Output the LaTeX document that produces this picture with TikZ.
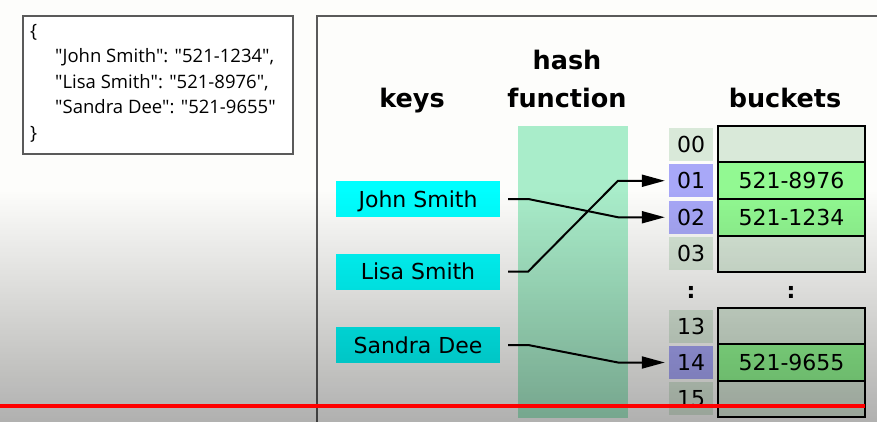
\documentclass[tikz,border=0pt]{standalone}
\usepackage{fontspec}
\setmainfont{DejaVu Sans}
\newfontfamily\jsonfont{Open Sans}
\usetikzlibrary{arrows.meta}
\definecolor{bg}{HTML}{FDFDFB}
\definecolor{keycol}{HTML}{00FFFF}
\definecolor{hashcol}{HTML}{A9EDCA}
\definecolor{emptycol}{HTML}{D9E9D9}
\definecolor{fullcol}{HTML}{92F992}
\definecolor{idxhi}{HTML}{A8A8F8}
\definecolor{framecol}{HTML}{5A5A5A}
\begin{document}
\begin{tikzpicture}[x=1pt,y=-1pt,
  cellfont/.style={font=\fontsize{22}{24}\selectfont},
  keybox/.style={cellfont, fill=keycol, minimum width=164pt, minimum height=36pt, inner sep=0pt, text height=16pt, text depth=0pt},
  idx/.style={cellfont, fill=emptycol, minimum width=44pt, minimum height=33pt, inner sep=0pt, text height=16pt, text depth=0pt},
  idxon/.style={idx, fill=idxhi},
  bucket/.style={cellfont, draw=black, line width=2pt, fill=emptycol, minimum width=147pt, minimum height=36.5pt, inner sep=0pt, text height=16pt, text depth=0pt},
  bucketon/.style={bucket, fill=fullcol},
  title/.style={font=\fontsize{25.5}{28}\selectfont\bfseries, anchor=base, inner sep=0pt},
  dots/.style={font=\fontsize{22}{24}\selectfont\bfseries, inner sep=0pt},
  json/.style={font=\jsonfont\fontsize{18.5}{22}\selectfont, anchor=base west, inner sep=0pt},
  link/.style={line width=2pt, -{Triangle[length=23pt,width=12pt]}}
]
\useasboundingbox (0,0) rectangle (877,422);
\fill[bg] (0,0) rectangle (877,422);

% left panel (JSON)
\draw[framecol, line width=1.6pt, fill=white] (23,16) rectangle (293,154);
\node[json] (jo) at (30,37.5) {\{};
\node[json] (j1) at (55,63) {"John Smith": "521-1234",};
\node[json] (j2) at (55,88.5) {"Lisa Smith": "521-8976",};
\node[json] (j3) at (55,114) {"Sandra Dee": "521-9655"};
\node[json] (jc) at (30,139.5) {\}};

% right panel frame
\draw[framecol, line width=2pt] (877,16) -- (317,16) -- (317,422);

% titles
\node[title] (tk) at (412,108) {keys};
\node[title] (th) at (567,70) {hash};
\node[title] (tf) at (567,108) {function};
\node[title] (tb) at (785,108) {buckets};

% hash column
\fill[hashcol] (518,126) rectangle (628,418);
\coordinate (hR) at (618,0);

% keys
\node[keybox] (kJ) at (418,199) {John Smith};
\node[keybox] (kL) at (418,271.5) {Lisa Smith};
\node[keybox] (kS) at (418,345) {Sandra Dee};

% index cells
\node[idx]   (i00) at (691,144.25) {00};
\node[idxon] (i01) at (691,180.75) {01};
\node[idxon] (i02) at (691,217.25) {02};
\node[idx]   (i03) at (691,253.75) {03};
\node[idx]   (i13) at (691,326.2) {13};
\node[idxon] (i14) at (691,362.5) {14};
\node[idx]   (i15) at (691,398.8) {15};

% buckets
\node[bucket]   (b00) at (791.5,144.25) {};
\node[bucketon] (b01) at (791.5,180.75) {521-8976};
\node[bucketon] (b02) at (791.5,217.25) {521-1234};
\node[bucket]   (b03) at (791.5,253.75) {};
\node[bucket]   (b13) at (791.5,326.2) {};
\node[bucketon] (b14) at (791.5,362.5) {521-9655};
\node[bucket]   (b15) at (791.5,398.8) {};

\node[dots] (d1) at (691,292) {:};
\node[dots] (d2) at (791,292) {:};

% connectors
\draw[link] ([xshift=8pt]kJ.east) -- ([xshift=28pt]kJ.east) -- (hR |- i02.west) -- ([xshift=-4pt]i02.west);
\draw[link] ([xshift=8pt]kL.east) -- ([xshift=28pt]kL.east) -- (hR |- i01.west) -- ([xshift=-4pt]i01.west);
\draw[link] ([xshift=8pt]kS.east) -- ([xshift=28pt]kS.east) -- (hR |- i14.west) -- ([xshift=-4pt]i14.west);

% screen darkening toward the bottom
\foreach \i in {0,...,115} {
  \pgfmathsetmacro\op{0.0013*(2*\i+1)}
  \fill[black, opacity=\op] (0,190+2*\i) rectangle (877,192+2*\i);
}

% red progress line
\draw[red, line width=4pt] (0,406) -- (865,406);
\end{tikzpicture}
\end{document}
